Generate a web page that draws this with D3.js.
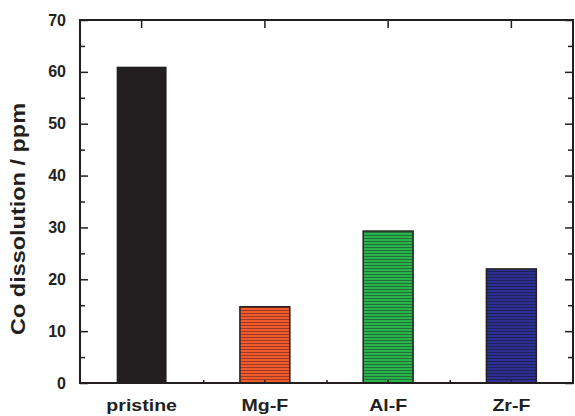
<!DOCTYPE html>
<html>
<head>
<meta charset="utf-8">
<script src="https://cdn.jsdelivr.net/npm/d3@7"></script>
<style>
  body { margin: 0; background: #fff; }
  text { font-family: "Liberation Sans", Arial, sans-serif; font-weight: bold; fill: #231f20; }
</style>
</head>
<body>
<svg id="chart" width="575" height="416"></svg>
<script>
// data
const categories = ['pristine', 'Mg-F', 'Al-F', 'Zr-F'];
const values = [61.0, 14.7, 29.3, 22.0];
const fills = ['#231f20', '#f15a29', '#27b24a', '#2e3192'];
const stripes = [null, '#9a3a24', '#23703a', '#1d1f5a'];
const yTicks = [0, 10, 20, 30, 40, 50, 60, 70];
const yMinor = [5, 15, 25, 35, 45, 55, 65];
const yTitle = 'Co dissolution / ppm';

const margin = { top: 20, right: 2, bottom: 33, left: 80 };
const W = 575, H = 416;
const width = W - margin.left - margin.right;
const height = H - margin.top - margin.bottom;
const ink = '#231f20';

const svg = d3.select('#chart');
const defs = svg.append('defs');

// striped fills
categories.forEach((c, i) => {
  if (!stripes[i]) return;
  const p = defs.append('pattern')
    .attr('id', `stripe${i}`)
    .attr('patternUnits', 'userSpaceOnUse')
    .attr('width', 6)
    .attr('height', 3);
  p.append('rect').attr('width', 6).attr('height', 3).attr('fill', fills[i]);
  p.append('rect').attr('y', 2).attr('width', 6).attr('height', 1).attr('fill', stripes[i]);
});

const g = svg.append('g').attr('transform', `translate(${margin.left},${margin.top})`);

const x = d3.scaleBand().domain(categories).range([0, width]).padding(0);
const y = d3.scaleLinear().domain([0, 70]).range([height, 0]);
const barW = x.bandwidth() * 0.405;

// bars
g.selectAll('.bar')
  .data(categories)
  .enter().append('rect')
  .attr('class', 'bar')
  .attr('x', (d) => x(d) + x.bandwidth() / 2 - barW / 2)
  .attr('y', (d, i) => y(values[i]))
  .attr('width', barW)
  .attr('height', (d, i) => y(0) - y(values[i]))
  .attr('fill', (d, i) => stripes[i] ? `url(#stripe${i})` : fills[i])
  .attr('stroke', ink)
  .attr('stroke-width', (d, i) => stripes[i] ? 1.5 : 0);

// axes, ticks pointing inward
const yAxis = g.append('g')
  .call(d3.axisLeft(y).tickValues(yTicks).tickSize(-8).tickPadding(14).tickFormat(d3.format('d')));
yAxis.selectAll('text').style('font-size', '16px');

g.append('g')
  .call(d3.axisLeft(y).tickValues(yMinor).tickSize(-5).tickFormat(''));

g.append('g')
  .attr('transform', `translate(${width},0)`)
  .call(d3.axisRight(y).tickValues(yTicks).tickSize(-8).tickFormat(''));

g.append('g')
  .attr('transform', `translate(${width},0)`)
  .call(d3.axisRight(y).tickValues(yMinor).tickSize(-5).tickFormat(''));

// top ticks at category centres
g.append('g')
  .call(d3.axisTop(x).tickSize(-8).tickFormat(''));

// bottom: category labels and tiny ticks
const xAxis = g.append('g')
  .attr('transform', `translate(0,${height})`)
  .call(d3.axisBottom(x).tickSize(-3).tickPadding(28));
xAxis.selectAll('text')
  .style('font-size', '17px')
  .attr('dy', 0)
  .each(function () {
    const len = this.getComputedTextLength();
    d3.select(this).attr('textLength', len * 1.15).attr('lengthAdjust', 'spacingAndGlyphs');
  });

const bounds = d3.range(1, categories.length).map((i) => x.step() * i);
g.append('g')
  .attr('transform', `translate(0,${height})`)
  .call(d3.axisBottom(d3.scaleLinear().domain([0, width]).range([0, width]))
    .tickValues(bounds).tickSize(-3).tickFormat(''));

g.selectAll('.domain').remove();
g.selectAll('.tick line').attr('stroke', ink).attr('stroke-width', 1.5);

// frame
g.append('rect')
  .attr('width', width)
  .attr('height', height)
  .attr('fill', 'none')
  .attr('stroke', ink)
  .attr('stroke-width', 2);

// y title
svg.append('text')
  .attr('transform', 'translate(25,219) rotate(-90)')
  .attr('text-anchor', 'middle')
  .attr('textLength', 232)
  .attr('lengthAdjust', 'spacingAndGlyphs')
  .style('font-size', '20px')
  .text(yTitle);
</script>
</body>
</html>
